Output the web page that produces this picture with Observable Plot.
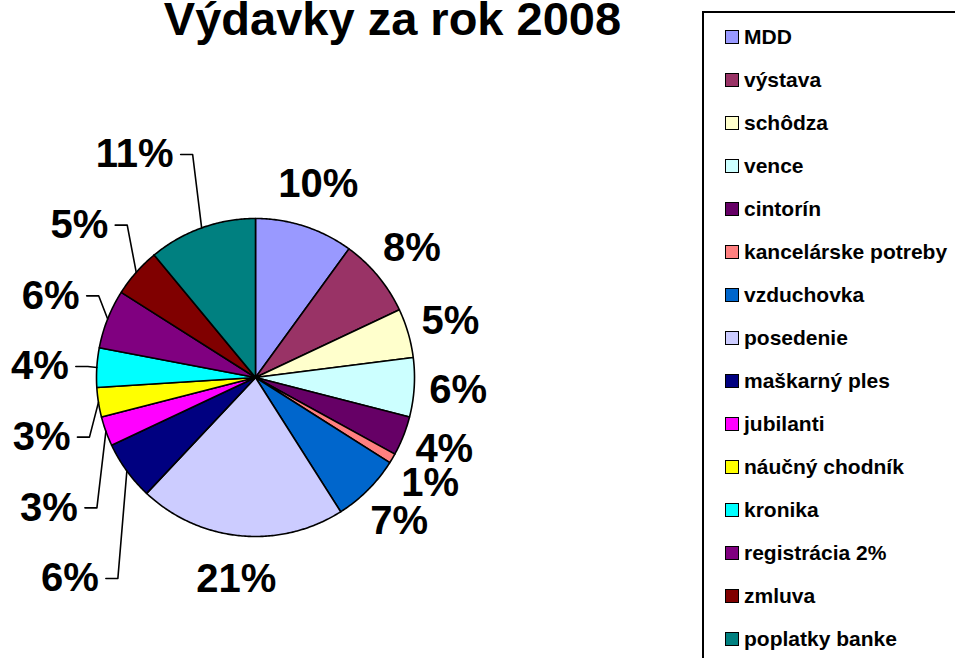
<!DOCTYPE html>
<html>
<head>
<meta charset="utf-8">
<script src="https://cdn.jsdelivr.net/npm/d3@7"></script>
<script src="https://cdn.jsdelivr.net/npm/@observablehq/plot@0.6"></script>
<style>
  html, body { margin: 0; padding: 0; background: #fff; overflow: hidden; }
  #wrap { position: relative; width: 955px; height: 658px; overflow: hidden; font-family: "Liberation Sans", Arial, sans-serif; }
  #title { position: absolute; left: 0; top: 0; width: 785px; text-align: center; font-size: 47px; line-height: 38px; font-weight: bold; color: #000; }
  #chart { position: absolute; left: 0; top: 0; }
  #legend { position: absolute; left: 702px; top: 11px; width: 300px; height: 700px; border: 2px solid #000; box-sizing: border-box; }
  .item { position: absolute; left: 21px; height: 24px; display: flex; align-items: center; font-size: 21px; font-weight: bold; color: #000; white-space: nowrap; }
  .sw { width: 12px; height: 12px; border: 1.5px solid #000; margin-right: 5px; flex: none; }
</style>
</head>
<body>
<div id="wrap">
  <div id="chart"></div>
  <div id="title">Výdavky za rok 2008</div>
  <div id="legend"></div>
</div>
<script>
const categories = ["MDD","výstava","schôdza","vence","cintorín","kancelárske potreby","vzduchovka","posedenie","maškarný ples","jubilanti","náučný chodník","kronika","registrácia 2%","zmluva","poplatky banke"];
const percents = [10,8,5,6,4,1,7,21,6,3,3,4,6,5,11];
const colors = ["#9999FF","#993366","#FFFFCC","#CCFFFF","#660066","#FF8080","#0066CC","#CCCCFF","#000080","#FF00FF","#FFFF00","#00FFFF","#800080","#800000","#008080"];
const labels = percents.map(p => p + "%");

// layout
const W = 955, H = 658, CX = 255, CY = 377, R = 159;
const px = v => v / R;

const arcs = d3.pie().sort(null).value(d => d)(percents);

// slice polygons in unit coordinates (y up)
const poly = [];
arcs.forEach((a, i) => {
  const cat = categories[i];
  poly.push({cat, x: 0, y: 0});
  const n = Math.max(2, Math.ceil((a.endAngle - a.startAngle) / 0.01) + 1);
  for (let k = 0; k < n; k++) {
    const t = a.startAngle + (a.endAngle - a.startAngle) * k / (n - 1);
    poly.push({cat, x: Math.sin(t), y: Math.cos(t)});
  }
  poly.push({cat, x: 0, y: 0});
});

// labels: right side outside end, left side with leader lines spread vertically
const mids = arcs.map(a => (a.startAngle + a.endAngle) / 2);
const rightLabels = [], leftIdx = [];
mids.forEach((m, i) => {
  if (m * 180 / Math.PI < 200) rightLabels.push({x: 1.277 * Math.sin(m), y: 1.277 * Math.cos(m), text: labels[i]});
  else leftIdx.push(i);
});
// simple collision pass for right labels on the right half
const minGap = px(34);
for (let k = 1; k < rightLabels.length; k++) {
  const a = rightLabels[k - 1], b = rightLabels[k];
  if (a.x > 0.5 && b.x > 0.5) {
    const gap = a.y - b.y;
    if (gap < minGap) { const d = (minGap - gap) / 2; a.y += d; b.y -= d; }
  }
}
leftIdx.sort((a, b) => mids[b] - mids[a]);
const yTop = px(CY - 154), yBot = px(CY - 578);
const step = leftIdx.length > 1 ? (yTop - yBot) / (leftIdx.length - 1) : 0;
const leftLabels = [], leaders = [];
leftIdx.forEach((i, k) => {
  const m = mids[i];
  const P = {x: Math.sin(m), y: Math.cos(m)};
  const yl = yTop - k * step;
  const kx = P.x - px(9);
  const ex = kx - px(19);
  leftLabels.push({x: ex, y: yl, text: labels[i]});
  leaders.push({id: i, x: ex + px(7), y: yl}, {id: i, x: kx, y: yl}, {id: i, x: P.x, y: P.y});
});

const font = {fontFamily: "Liberation Sans, Arial, sans-serif", fontSize: 40, fontWeight: "bold", fill: "#000"};

const chart = Plot.plot({
  width: W, height: H,
  margin: 0,
  x: {domain: [-1, 1], range: [CX - R, CX + R], axis: null},
  y: {domain: [-1, 1], range: [CY + R, CY - R], axis: null},
  color: {domain: categories, range: colors},
  style: {background: "transparent", overflow: "visible"},
  marks: [
    Plot.line(poly, {x: "x", y: "y", z: "cat", fill: "cat", stroke: "#000", strokeWidth: 1.6, strokeLinejoin: "round", curve: "linear"}),
    Plot.line(leaders, {x: "x", y: "y", z: "id", stroke: "#000", strokeWidth: 1.6, curve: "linear"}),
    Plot.text(rightLabels, {x: "x", y: "y", text: "text", textAnchor: "middle", ...font}),
    Plot.text(leftLabels, {x: "x", y: "y", text: "text", textAnchor: "end", ...font})
  ]
});
document.getElementById("chart").appendChild(chart);

// legend
const legend = document.getElementById("legend");
categories.forEach((c, i) => {
  const d = document.createElement("div");
  d.className = "item";
  d.style.top = (35 + 43 * i - 12 - 11) + "px";
  const s = document.createElement("span");
  s.className = "sw";
  s.style.background = colors[i];
  d.appendChild(s);
  d.appendChild(document.createTextNode(c));
  legend.appendChild(d);
});
</script>
</body>
</html>
